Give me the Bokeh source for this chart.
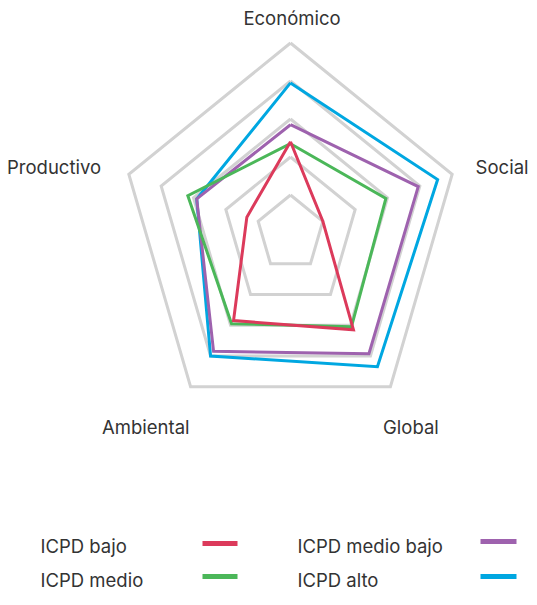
import numpy as np
from bokeh.plotting import figure
from bokeh.models import Range1d
from bokeh.embed import file_html
from bokeh.resources import INLINE
from bokeh.core.properties import value

# ---- data ----
categories = ["Económico", "Social", "Global", "Ambiental", "Productivo"]
grid_levels = [0.2, 0.4, 0.6, 0.8, 1.0]
series_names = ["ICPD bajo", "ICPD medio", "ICPD medio bajo", "ICPD alto"]
icpd_bajo = [0.48, 0.20, 0.63, 0.57, 0.27]
icpd_medio = [0.47, 0.59, 0.61, 0.59, 0.635]
icpd_medio_bajo = [0.57, 0.79, 0.785, 0.77, 0.58]
icpd_alto = [0.79, 0.91, 0.87, 0.80, 0.58]

colors = {"ICPD bajo": "#DC3A5B", "ICPD medio": "#4BB759",
          "ICPD medio bajo": "#9E62AE", "ICPD alto": "#00A7E1"}
series_values = {"ICPD bajo": icpd_bajo, "ICPD medio": icpd_medio,
                 "ICPD medio bajo": icpd_medio_bajo, "ICPD alto": icpd_alto}

# ---- geometry ----
W, H = 529, 589
CX, CY = 290.0, 232.5      # centre in figure pixels
SX, SY = 170.0, 190.0      # pixels per unit radius (x, y)
TEXT_DY = 6.0              # renderer draws alphabetic baseline a bit lower

def px(xp, yp):
    """figure-pixel -> data coords"""
    return (xp - CX) / SX, (CY - yp) / SY

angles = np.deg2rad(90 - 72 * np.arange(len(categories)))

def polar(vals):
    v = np.asarray(vals, dtype=float)
    xs = v * np.cos(angles)
    ys = v * np.sin(angles)
    return list(np.append(xs, xs[0])), list(np.append(ys, ys[0]))

x0, _ = px(0, 0)
x1, _ = px(W, 0)
_, y0 = px(0, H)
_, y1 = px(0, 0)

p = figure(width=W, height=H, x_range=Range1d(x0, x1), y_range=Range1d(y0, y1),
           output_backend="svg", toolbar_location=None, min_border=0,
           outline_line_color=None, background_fill_color="white",
           border_fill_color="white")
p.axis.visible = False
p.xgrid.visible = False
p.ygrid.visible = False

# grid pentagons
for lv in grid_levels:
    gx, gy = polar([lv] * len(categories))
    p.line(gx, gy, line_color="#D2D2D2", line_width=3, line_join="miter")

# series
for name in ["ICPD alto", "ICPD medio bajo", "ICPD medio", "ICPD bajo"]:
    sx, sy = polar(series_values[name])
    p.line(sx, sy, line_color=colors[name], line_width=3, line_join="miter")

FONT = value("Inter")
TXT = "#333333"
FS = "18.5px"

def label(x, y, s, align):
    dx, dy = px(x, y - TEXT_DY)
    p.text([dx], [dy], text=[s], text_font=FONT, text_font_size=FS,
           text_color=TXT, text_align=align, text_baseline="alphabetic")

# category labels (x, baseline y)
label_pos = [(291.5, 23, "center"), (528, 172, "right"), (382.5, 432, "left"),
             (101.5, 432, "left"), (6.5, 172, "left")]
for cat, (lx, ly, al) in zip(categories, label_pos):
    label(lx, ly, cat, al)

# legend
legend_layout = [("ICPD bajo", 40, 551, 202, 237, 543),
                 ("ICPD medio bajo", 297, 551, 480, 516, 541),
                 ("ICPD medio", 40, 585, 202, 237, 576),
                 ("ICPD alto", 297, 585, 480, 516, 576)]
for name, tx, ty, lx0, lx1, ly in legend_layout:
    label(tx, ty, name, "left")
    ax, ay = px(lx0, ly)
    bx, by = px(lx1, ly)
    p.line([ax, bx], [ay, by], line_color=colors[name], line_width=5)

open("out.html", "w").write(file_html(p, INLINE))
